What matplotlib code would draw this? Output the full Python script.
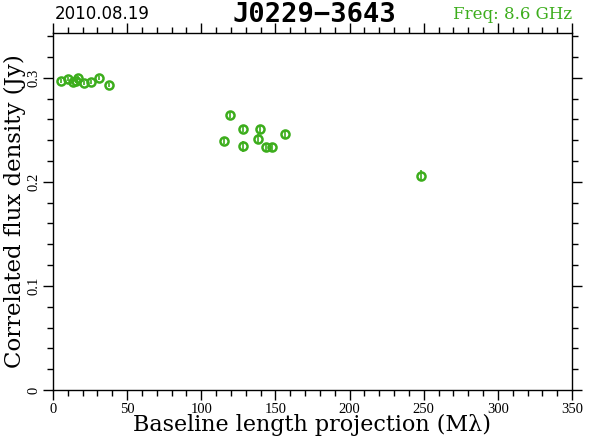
import matplotlib
matplotlib.use("Agg")
import matplotlib.pyplot as plt
from matplotlib.ticker import MultipleLocator

# baseline length (Mlambda), correlated flux (Jy), error (Jy)
baseline = [5.2, 10.3, 13.7, 15.5, 17.0, 20.9, 25.6, 31.2, 38.0,
            115.5, 119.4, 128.0, 128.3, 138.4, 139.6, 143.4, 147.5, 156.5,
            248.2]
flux = [0.297, 0.299, 0.296, 0.297, 0.300, 0.295, 0.296, 0.300, 0.293,
        0.239, 0.264, 0.251, 0.234, 0.241, 0.251, 0.233, 0.233, 0.246,
        0.206]
flux_err = [0.002, 0.002, 0.002, 0.002, 0.002, 0.002, 0.002, 0.002, 0.002,
            0.003, 0.003, 0.003, 0.005, 0.005, 0.004, 0.003, 0.003, 0.004,
            0.005]

GREEN = "#3cad1c"

fig = plt.figure(figsize=(5.9, 4.43), dpi=100)
ax = fig.add_axes([0.0898, 0.1196, 0.8797, 0.8059])

ax.errorbar(baseline, flux, yerr=flux_err, fmt="o", ms=5.8, mfc="none",
            mec=GREEN, mew=1.8, ecolor=GREEN, elinewidth=1.2, capsize=0)

ax.set_xlim(0, 350)
ax.set_ylim(0, 0.343)
ax.xaxis.set_major_locator(MultipleLocator(50))
ax.xaxis.set_minor_locator(MultipleLocator(10))
ax.yaxis.set_major_locator(MultipleLocator(0.1))
ax.yaxis.set_minor_locator(MultipleLocator(0.02))
ax.tick_params(which="both", direction="out", top=True, right=True, width=1)
ax.tick_params(which="major", length=7, labelsize=10.5, pad=2)
ax.tick_params(which="minor", length=4)
for sp in ax.spines.values():
    sp.set_linewidth(1)

ax.set_xticklabels([f"{int(v)}" for v in ax.get_xticks()], family="Liberation Serif")
yt = ax.get_yticks()
ax.set_yticklabels(["0" if v == 0 else f"{v:.1f}" for v in yt],
                   family="Liberation Serif", rotation=90, va="center")

ax.set_xlabel("Baseline length projection (M\u03bb)", family="DejaVu Serif",
              fontsize=16, labelpad=-1)
ax.set_ylabel("Correlated flux density (Jy)", family="DejaVu Serif",
              fontsize=16.5, labelpad=1)

fig.text(0.093, 0.968, "2010.08.19", fontsize=12, ha="left", va="center",
         family="DejaVu Sans")
fig.text(0.532, 0.966, "J0229\u22123643", fontsize=19.5, fontweight="bold",
         ha="center", va="center", family="DejaVu Sans Mono")
fig.text(0.969, 0.968, "Freq: 8.6 GHz", fontsize=12, ha="right", va="center",
         color=GREEN, family="DejaVu Serif")

fig.savefig("out.png", dpi=100)
